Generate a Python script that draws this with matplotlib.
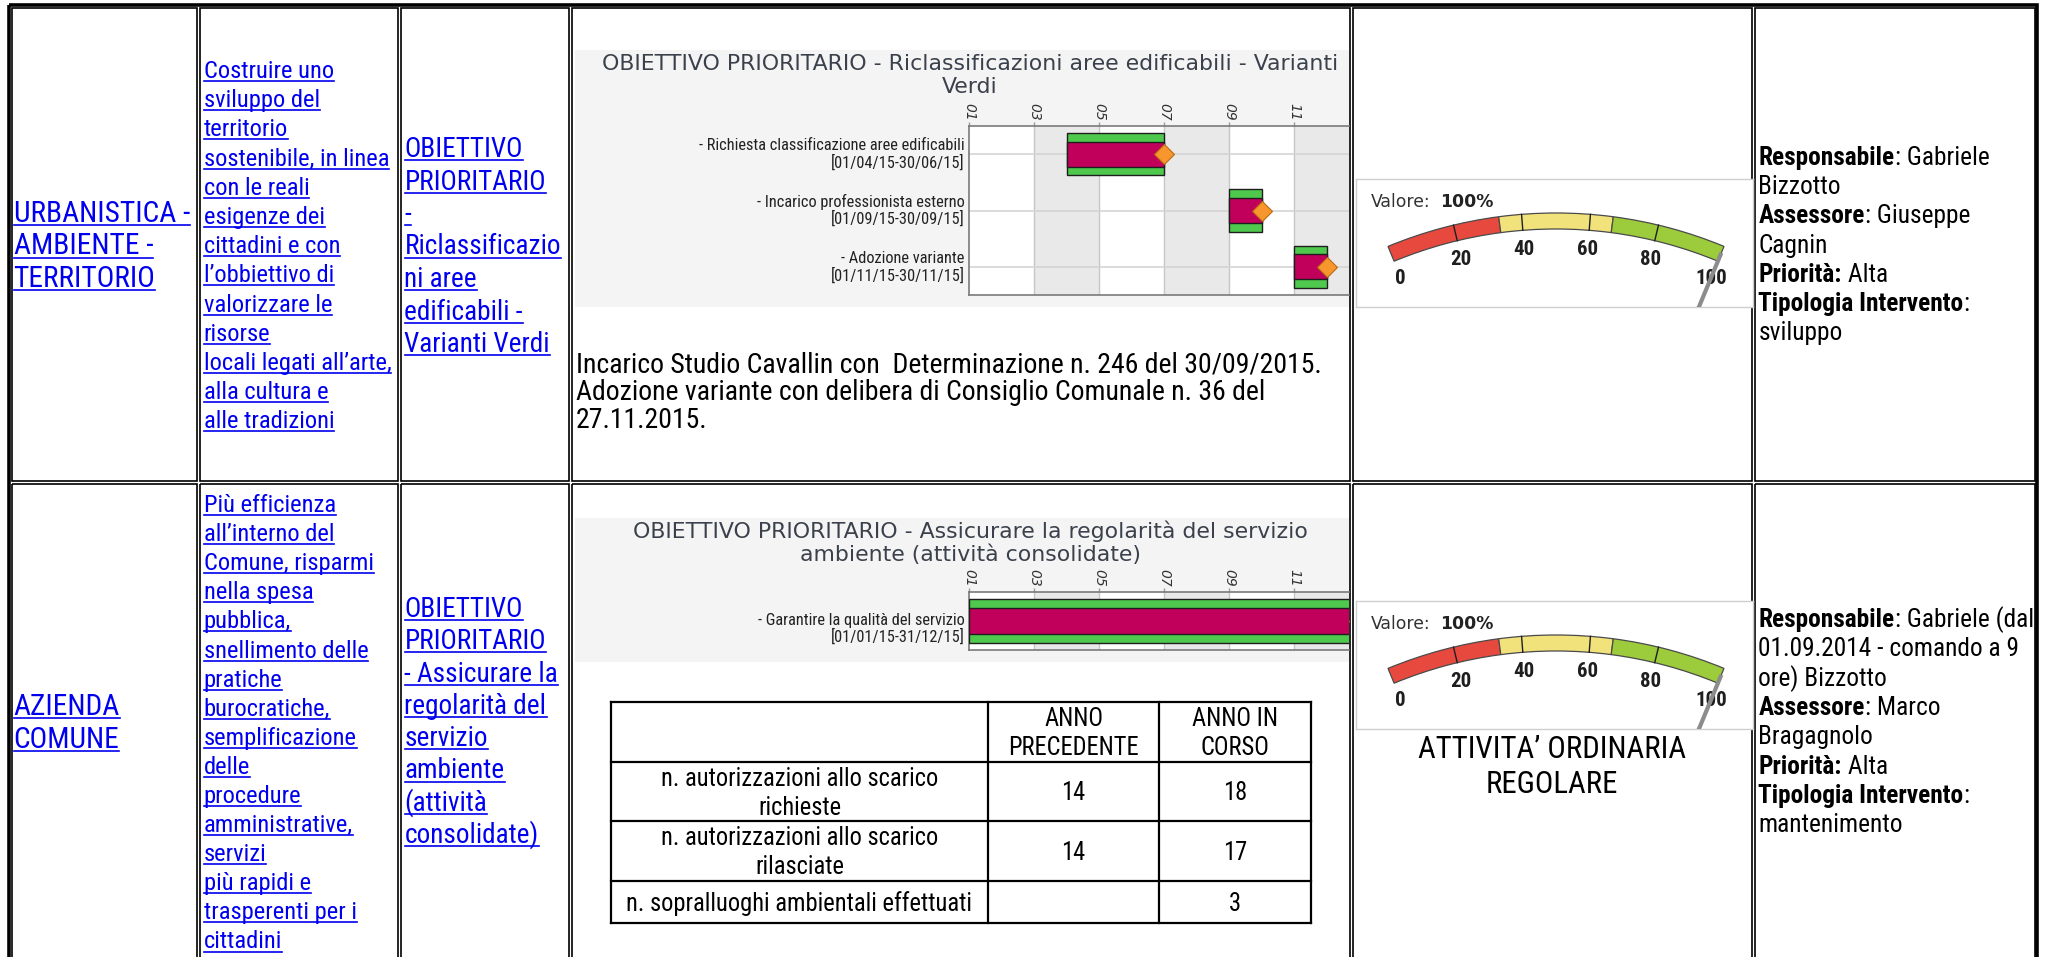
import calendar
import numpy as np
import matplotlib
matplotlib.use('Agg')
import matplotlib.pyplot as plt
import matplotlib.transforms as mtransforms
from matplotlib.patches import Rectangle, Wedge
from matplotlib.font_manager import FontProperties, fontManager

# ---------------- data ----------------
area_row1 = ['URBANISTICA -', 'AMBIENTE -', 'TERRITORIO']
area_row2 = ['AZIENDA', 'COMUNE']

goal_row1 = ['Costruire uno', 'sviluppo del', 'territorio', 'sostenibile, in linea',
             'con le reali', 'esigenze dei', 'cittadini e con', 'l\u2019obbiettivo di',
             'valorizzare le', 'risorse', 'locali legati all\u2019arte,', 'alla cultura e',
             'alle tradizioni']
goal_row2 = ['Più efficienza', 'all\u2019interno del', 'Comune, risparmi', 'nella spesa',
             'pubblica,', 'snellimento delle', 'pratiche', 'burocratiche,', 'semplificazione',
             'delle', 'procedure', 'amministrative,', 'servizi', 'più rapidi e',
             'trasperenti per i', 'cittadini']

obj_row1 = ['OBIETTIVO', 'PRIORITARIO', '-', 'Riclassificazio', 'ni aree', 'edificabili -',
            'Varianti Verdi']
obj_row2 = ['OBIETTIVO', 'PRIORITARIO', '- Assicurare la', 'regolarità del', 'servizio',
            'ambiente', '(attività', 'consolidate)']

gantt1_title = ['OBIETTIVO PRIORITARIO - Riclassificazioni aree edificabili - Varianti', 'Verdi']
gantt1_tasks = ['- Richiesta classificazione aree edificabili',
                '- Incarico professionista esterno',
                '- Adozione variante']
gantt1_start = ['01/04/15', '01/09/15', '01/11/15']
gantt1_end = ['30/06/15', '30/09/15', '30/11/15']

gantt2_title = ['OBIETTIVO PRIORITARIO - Assicurare la regolarità del servizio',
                'ambiente (attività consolidate)']
gantt2_tasks = ['- Garantire la qualità del servizio']
gantt2_start = ['01/01/15']
gantt2_end = ['31/12/15']

month_ticks = [1, 3, 5, 7, 9, 11]
month_labels = ['01', '03', '05', '07', '09', '11']

note_row1 = ['Incarico Studio Cavallin con  Determinazione n. 246 del 30/09/2015.',
             'Adozione variante con delibera di Consiglio Comunale n. 36 del',
             '27.11.2015.']

table_header = ['', 'ANNO\nPRECEDENTE', 'ANNO IN\nCORSO']
table_labels = ['n. autorizzazioni allo scarico\nrichieste',
                'n. autorizzazioni allo scarico\nrilasciate',
                'n. sopralluoghi ambientali effettuati']
table_prev = [14, 14, None]
table_curr = [18, 17, 3]

gauge_values = [100, 100]
gauge_ticks = [0, 20, 40, 60, 80, 100]
gauge_bands = [(0, 100 / 3, '#e8493f'), (100 / 3, 200 / 3, '#f1e27c'), (200 / 3, 100, '#9ccb3b')]

caption_row2 = ['ATTIVITA\u2019 ORDINARIA', 'REGOLARE']

info_row1 = [[('Responsabile', True), (': Gabriele', False)],
             [('Bizzotto', False)],
             [('Assessore', True), (': Giuseppe', False)],
             [('Cagnin', False)],
             [('Priorità:', True), (' Alta', False)],
             [('Tipologia Intervento', True), (':', False)],
             [('sviluppo', False)]]
info_row2 = [[('Responsabile', True), (': Gabriele (dal', False)],
             [('01.09.2014 - comando a 9', False)],
             [('ore) Bizzotto', False)],
             [('Assessore', True), (': Marco', False)],
             [('Bragagnolo', False)],
             [('Priorità:', True), (' Alta', False)],
             [('Tipologia Intervento', True), (':', False)],
             [('mantenimento', False)]]

# colours
BLUE = '#0000ee'
GREEN = '#4ec94e'
MAGENTA = '#c1005b'
ORANGE = '#f7962c'

# pick a narrow font if there is one
names = set(f.name for f in fontManager.ttflist)
FONT = 'Liberation Sans'
for cand in ['Liberation Sans Narrow', 'Roboto Condensed']:
    if cand in names:
        FONT = cand
        break

W, H = 2047, 957
fig = plt.figure(figsize=(W / 100, H / 100), dpi=100)
A = fig.add_axes([0, 0, 1, 1])
A.set_xlim(0, W)
A.set_ylim(H, 0)
A.axis('off')
R = fig.canvas.get_renderer()


def tw(s, size, weight='normal', family=None):
    fp = FontProperties(family=family or FONT, size=size, weight=weight)
    return R.get_text_width_height_descent(s, fp, ismath=False)[0]


def fit(s, target, weight='normal', family=None):
    return 20 * target / tw(s, 20, weight, family)


def px_axes(x0, y0, x1, y1):
    return fig.add_axes([x0 / W, 1 - y1 / H, (x1 - x0) / W, (y1 - y0) / H])


size_area = fit('URBANISTICA -', 176)
size_goal = fit('sostenibile, in linea', 185)
size_obj = fit('Varianti Verdi', 145)
size_note = fit(note_row1[0], 745)
size_tab = fit('n. sopralluoghi ambientali effettuati', 345)
size_cap = fit(caption_row2[0], 268)
size_info = fit('01.09.2014 - comando a 9', 261)
size_glab = fit(gantt1_tasks[0], 267)
size_gtitle = fit(gantt1_title[0], 733, family='DejaVu Sans')
size_gnum = fit('100', 31.6, weight='bold')
size_val = fit('Valore:', 59.5, family='DejaVu Sans')


# ---------------- table frame ----------------
col_edges = [(11.5, 196.5), (200, 398), (401, 569), (572, 1349.5), (1353, 1752), (1755, 2035)]
row_edges = [(7.5, 481), (484, 1000)]
for x0, x1 in col_edges:
    for y0, y1 in row_edges:
        A.add_patch(Rectangle((x0, y0), x1 - x0, y1 - y0, fill=False, ec='black', lw=1.2, zorder=3))
A.add_patch(Rectangle((9, 5.3), 2036.8 - 9, 1000, fill=False, ec='black', lw=2.6, zorder=3))


def link_lines(x, y0, step, lines, size):
    for i, s in enumerate(lines):
        y = y0 + i * step
        A.text(x, y, s, fontsize=size, family=FONT, color=BLUE, va='baseline', zorder=4)
        A.plot([x, x + tw(s, size)], [y + 3, y + 3], color=BLUE, lw=1.2, zorder=4)


def plain_lines(x, y0, step, lines, size, ha='left'):
    for i, s in enumerate(lines):
        A.text(x, y0 + i * step, s, fontsize=size, family=FONT, color='black',
               va='baseline', ha=ha, zorder=4)


def rich(x, y, parts, size):
    for s, bold in parts:
        w = 'bold' if bold else 'normal'
        A.text(x, y, s, fontsize=size, family=FONT, weight=w, va='baseline', zorder=4)
        x += tw(s, size, w)


link_lines(13.5, 222, 32.5, area_row1, size_area)
link_lines(13.5, 715, 32.5, area_row2, size_area)
link_lines(203.5, 78, 29.2, goal_row1, size_goal)
link_lines(203.5, 512, 29.1, goal_row2, size_goal)
link_lines(404.5, 157, 32.5, obj_row1, size_obj)
link_lines(404.5, 617, 32.3, obj_row2, size_obj)


# ---------------- gantt charts ----------------
MONTH_PX = 32.5


def month_pos(s, end=False):
    d, m, y = [int(v) for v in s.split('/')]
    days = calendar.monthrange(2000 + y, m)[1]
    return (m - 1) + (d if end else d - 1) / days


def gantt(box, panel, title, title_y, tasks, starts, ends, lab_dy):
    A.add_patch(Rectangle((panel[0], panel[1]), panel[2] - panel[0], panel[3] - panel[1],
                          fc='#f4f4f4', ec='none', zorder=1))
    for i, s in enumerate(title):
        A.text(970, title_y + i * 23, s, ha='center', va='baseline', fontsize=size_gtitle,
               family='DejaVu Sans', color='#3a414c', zorder=4)
    ax = px_axes(*box)
    n = len(tasks)
    ax.set_xlim(0, (box[2] - box[0]) / MONTH_PX)
    ax.set_ylim(n, 0)
    for k in range(2, 12, 4):
        ax.axvspan(k, k + 2, color='#e9e9e9', lw=0, zorder=0)
    for m in month_ticks[1:]:
        ax.axvline(m - 1, color='#c6c6c6', lw=1, zorder=1)
    for i in range(n):
        ax.axhline(i + 0.5, color='#d4d4d4', lw=1.2, zorder=1)
    left = np.array([month_pos(s) for s in starts])
    right = np.array([month_pos(e, True) for e in ends])
    ys = np.arange(n) + 0.5
    ax.barh(ys, right - left, left=left, height=0.75, color=GREEN, edgecolor='#1e1e1e', lw=1, zorder=3)
    ax.barh(ys, right - left, left=left, height=0.44, color=MAGENTA, edgecolor='#1e1e1e', lw=1, zorder=4)
    ax.plot(right, ys, 'D', color=ORANGE, mec='#b96a12', mew=0.8, ms=10.5, ls='none', zorder=5)
    ax.set_xticks([m - 1 for m in month_ticks])
    ax.set_xticklabels(month_labels)
    ax.xaxis.set_ticks_position('top')
    ax.tick_params(axis='x', length=3, width=1, color='#9a9a9a', pad=1, labelsize=10,
                   labelcolor='#333333', labelrotation=270)
    for lb in ax.get_xticklabels():
        lb.set_fontstyle('italic')
        lb.set_family('DejaVu Sans')
    ax.set_yticks([])
    for sp in ['left', 'top', 'bottom']:
        ax.spines[sp].set_color('#7a7a7a')
        ax.spines[sp].set_linewidth(1.2)
    ax.spines['right'].set_visible(False)
    for i in range(n):
        dates = '[' + starts[i] + '-' + ends[i] + ']'
        for line, dy in zip([tasks[i], dates], lab_dy):
            tr = mtransforms.offset_copy(ax.transData, fig=fig, x=-4.5, y=dy, units='dots')
            ax.text(0, ys[i], line, transform=tr, ha='right', va='center', fontsize=size_glab,
                    family=FONT, color='#222222')
    return ax


gantt((969, 126, 1348.6, 295), (575, 50, 1349, 307), gantt1_title, 70,
      gantt1_tasks, gantt1_start, gantt1_end, (8.5, -8.5))
gantt((969, 592, 1348.6, 650), (575, 518, 1349, 662), gantt2_title, 538,
      gantt2_tasks, gantt2_start, gantt2_end, (0, -16))

plain_lines(576, 373, 27.5, note_row1, size_note)

# ---------------- small table ----------------
tab_x = [611, 988, 1159, 1311]
tab_y = [702, 762, 821, 881, 923]
for x in tab_x:
    A.plot([x, x], [tab_y[0], tab_y[-1]], color='black', lw=1.6, zorder=4)
for y in tab_y:
    A.plot([tab_x[0], tab_x[-1]], [y, y], color='black', lw=1.6, zorder=4)

cells = [table_header]
for lab, p, c in zip(table_labels, table_prev, table_curr):
    cells.append([lab, '' if p is None else str(p), '' if c is None else str(c)])
cap_half = 0.36 * size_tab * 100 / 72
for r, row in enumerate(cells):
    cy = (tab_y[r] + tab_y[r + 1]) / 2
    for c, txt in enumerate(row):
        cx = (tab_x[c] + tab_x[c + 1]) / 2
        lines = txt.split('\n') if txt else []
        for k, s in enumerate(lines):
            y = cy + (k - (len(lines) - 1) / 2) * 28.8 + cap_half
            A.text(cx, y, s, ha='center', va='baseline', fontsize=size_tab, family=FONT, zorder=4)


# ---------------- gauges ----------------
GX0, GX1, GH = 1356, 1753, 128
HUB_X, HUB_DY = 1556, 473
R_OUT, R_IN, R_LAB = 439, 423, 406


def ang(v):
    return 112.5 - 0.45 * v


def gauge(top, value):
    ax = px_axes(GX0, top, GX1, top + GH)
    ax.set_xlim(GX0 - HUB_X, GX1 - HUB_X)
    ax.set_ylim(HUB_DY - GH, HUB_DY)
    ax.set_xticks([])
    ax.set_yticks([])
    for sp in ax.spines.values():
        sp.set_color('#cfcfcf')
        sp.set_linewidth(1)
    for lo, hi, col in gauge_bands:
        ax.add_patch(Wedge((0, 0), R_OUT, ang(hi), ang(lo), width=R_OUT - R_IN,
                           fc=col, ec='#4a4a4a', lw=0.9))
    for v in gauge_ticks[1:-1]:
        a = np.radians(ang(v))
        ax.plot([R_IN * np.cos(a), R_OUT * np.cos(a)], [R_IN * np.sin(a), R_OUT * np.sin(a)],
                color='#1e1e1e', lw=1)
    for v in gauge_ticks:
        a = np.radians(ang(v))
        ax.text(R_LAB * np.cos(a), R_LAB * np.sin(a) - 7.5, str(v), ha='center', va='baseline',
                fontsize=size_gnum, weight='bold', family=FONT, color='#1e1e1e')
    a = np.radians(ang(value))
    ax.plot([300 * np.cos(a), 432 * np.cos(a)], [300 * np.sin(a), 432 * np.sin(a)],
            color='#8c8c8c', lw=3, solid_capstyle='butt', zorder=5)
    ax.text(15 / (GX1 - GX0), 1 - 23 / GH, 'Valore:', transform=ax.transAxes, va='center',
            fontsize=size_val, family='DejaVu Sans', color='#333333')
    ax.text(84 / (GX1 - GX0), 1 - 23 / GH, '%d%%' % value, transform=ax.transAxes, va='center',
            fontsize=size_val, family='DejaVu Sans', weight='bold', color='#222222')


gauge(179, gauge_values[0])
gauge(601, gauge_values[1])

plain_lines(1552, 758, 35, caption_row2, size_cap, ha='center')

# ---------------- right column ----------------
for i, parts in enumerate(info_row1):
    rich(1758.5, 165 + i * 29.2, parts, size_info)
for i, parts in enumerate(info_row2):
    rich(1758.5, 627 + i * 29.3, parts, size_info)

fig.savefig('out.png', dpi=100)
